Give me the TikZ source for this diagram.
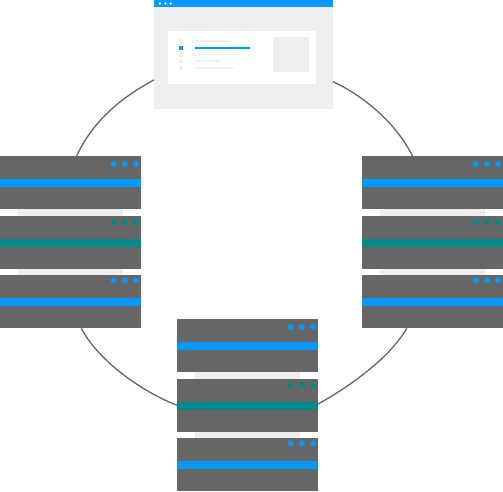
\documentclass[tikz,border=0pt]{standalone}
\usepackage{xcolor}
\definecolor{srvgray}{RGB}{102,102,102}
\definecolor{srvblue}{RGB}{0,153,255}
\definecolor{srvteal}{RGB}{0,138,138}
\definecolor{panelgray}{RGB}{238,238,238}
\tikzset{
  box/.style={rectangle, inner sep=0pt, outer sep=0pt, anchor=north west},
  server/.style={box, fill=srvgray, minimum width=141pt, minimum height=53.3pt},
  band/.style={box, minimum width=141pt, minimum height=8pt},
  gap/.style={box, fill=panelgray, minimum width=105pt, minimum height=6.5pt},
  led/.style={circle, inner sep=0pt, outer sep=0pt, minimum size=6pt},
  titledot/.style={circle, fill=white, inner sep=0pt, minimum size=2.6pt},
  item/.style={box, fill=panelgray, minimum width=4pt, minimum height=4pt},
  textline/.style={box, fill=panelgray, minimum height=1.7pt},
  link/.style={line width=1.3pt, color=srvgray},
}
\begin{document}
\begin{tikzpicture}[x=1pt, y=-1pt]
  \useasboundingbox (0,0) rectangle (503,491);
  % browser window
  \node[box, fill=panelgray, minimum width=179pt, minimum height=108.5pt] (window) at (154,0) {};
  \node[box, fill=srvblue, minimum width=179pt, minimum height=7pt] (titlebar) at (154,0) {};
  \foreach \i/\xpos in {1/160, 2/165.5, 3/170.7}
    \node[titledot] (tdot\i) at (\xpos,3.5) {};
  \node[box, fill=white, minimum width=148pt, minimum height=53pt] (page) at (168,30.5) {};
  \node[box, fill=panelgray, minimum width=36.5pt, minimum height=35pt] (thumb) at (272.5,37) {};
  \foreach \i/\ypos/\len in {1/39/35.7, 3/52.5/43, 4/59/25, 5/66/38} {
    \node[item] (item\i) at (179,\ypos) {};
    \node[textline, minimum width=\len pt] (line\i) at (195,\ypos+1) {};
  }
  \node[item, fill=srvblue] (item2) at (179,46) {};
  \node[textline, fill=srvblue, minimum width=55pt, minimum height=2pt] (line2) at (195,47) {};
  % server stacks
  \foreach \name/\xpos/\ypos in {L/0/156, R/362/156, B/177/319} {
    \node[gap] (gap\name1) at (\xpos+18,\ypos+53) {};
    \node[gap] (gap\name2) at (\xpos+18,\ypos+112.6) {};
    \foreach \i/\dy/\col/\ledy in {1/0/srvblue/8, 2/59.6/srvteal/6.6, 3/119/srvblue/5.4} {
      \node[server] (srv\name\i) at (\xpos,\ypos+\dy) {};
      \node[band, fill=\col] (band\name\i) at (\xpos,\ypos+\dy+23) {};
      \foreach \j/\dx in {1/113.7, 2/124.9, 3/136}
        \node[led, fill=\col] (led\name\i\j) at (\xpos+\dx,\ypos+\dy+\ledy) {};
    }
  }
  % ring
  \draw[link] (window.196.8) .. controls (120.2,98.1) and (92.7,121.4) .. (srvL1.77);
  \draw[link] (window.343.8) .. controls (364,96) and (396.9,124) .. (srvR1.127.9);
  \draw[link] (srvL3.-68.3) .. controls (98.9,361.4) and (141.7,391.5) .. (srvB2.west);
  \draw[link] (srvB2.1.6) .. controls (349,387) and (389.7,358) .. (srvR3.226.7);
\end{tikzpicture}
\end{document}
